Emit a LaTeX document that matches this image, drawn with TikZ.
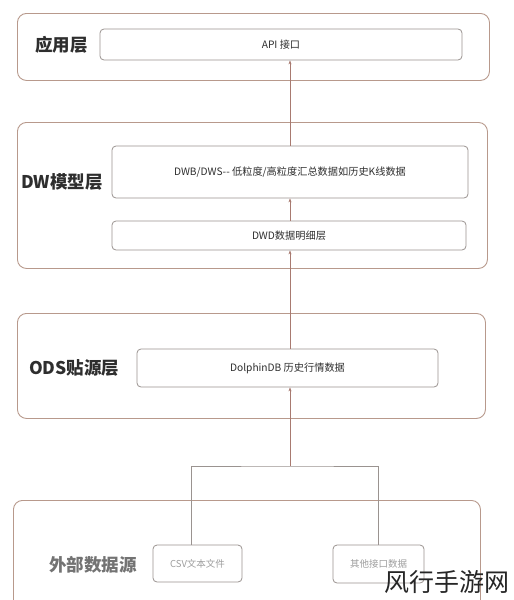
\documentclass[tikz,border=0pt]{standalone}
\usepackage{fontspec}
\setmainfont{Noto Sans CJK SC}
\usetikzlibrary{arrows.meta}
\definecolor{outerc}{HTML}{B8998C}
\definecolor{innerc}{HTML}{9A9390}
\definecolor{arrc}{HTML}{A87A70}
\definecolor{lbl}{HTML}{2E2E2E}
\tikzset{
  layer/.style={draw=outerc, line width=0.9pt, rounded corners=9pt, anchor=north west, inner sep=0pt},
  innerbox/.style={draw=innerc, line width=0.8pt, rounded corners=4pt, inner sep=0pt, font=\fontsize{10.2}{12}\selectfont, text=lbl},
  srcbox/.style={innerbox, text=black!38, font=\fontsize{9.5}{11}\selectfont},
  layerlabel/.style={font=\fontsize{17.5}{20}\selectfont\bfseries, text=lbl, anchor=west, inner sep=0pt},
  arr/.style={draw=arrc, line width=0.6pt, -{Stealth[length=4pt,width=3pt]}},
  conn/.style={draw=innerc, line width=0.8pt},
}
\begin{document}
\begin{tikzpicture}[x=1pt,y=-1pt]
\useasboundingbox[fill=white] (0,0) rectangle (514,600);
% outer layers
\node[layer, minimum width=472pt, minimum height=67pt] (l1) at (17,13) {};
\node[layer, minimum width=470pt, minimum height=146pt] (l2) at (17,122) {};
\node[layer, minimum width=468pt, minimum height=105pt] (l3) at (17,313) {};
\node[layer, minimum width=467pt, minimum height=110pt] (l4) at (13,500) {};
% labels
\node[layerlabel] (t1) at (35,45) {应用层};
\node[layerlabel] (t2) at (21,182) {DW模型层};
\node[layerlabel] (t3) at (29,368) {ODS贴源层};
\node[layerlabel, text=black!55] (t4) at (49,565) {外部数据源};
% inner boxes
\node[innerbox, minimum width=362pt, minimum height=31pt] (api) at (281,44.5) {API 接口};
\node[innerbox, minimum width=356pt, minimum height=52pt] (dwb) at (290,172) {DWB/DWS-{}- 低粒度/高粒度汇总数据如历史K线数据};
\node[innerbox, minimum width=354pt, minimum height=29pt] (dwd) at (289,235.5) {DWD数据明细层};
\node[innerbox, minimum width=301pt, minimum height=38pt] (ods) at (287.5,368) {DolphinDB 历史行情数据};
\node[srcbox, minimum width=89pt, minimum height=37pt] (csv) at (197.5,563.5) {CSV文本文件};
\node[srcbox, minimum width=91pt, minimum height=38pt] (oth) at (378.5,564) {其他接口数据};
% connectors
\coordinate (col) at (290,0);
\coordinate (jn) at (290,466);
\draw[arr] (dwb.north -| col) -- (api.south -| col);
\draw[arr] (dwd.north -| col) -- (dwb.south -| col);
\draw[arr] (ods.north -| col) -- (dwd.south -| col);
\draw[arr] (jn) -- (ods.south -| col);
\draw[conn] (csv.north -| 191,0) |- (jn) -| (oth.north);
% watermark
\node[font=\fontsize{25}{28}\selectfont, text=black!85, anchor=south east, inner sep=0pt] (wm) at (510,594) {风行手游网};
\end{tikzpicture}
\end{document}
